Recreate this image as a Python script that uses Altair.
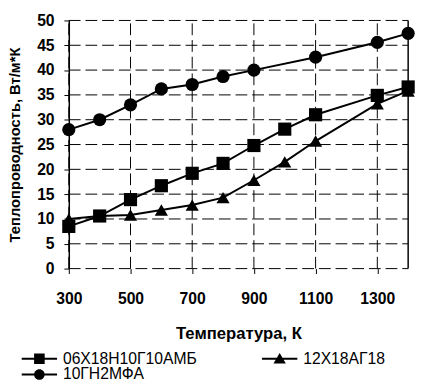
import altair as alt
import pandas as pd

temps = [300, 400, 500, 600, 700, 800, 900, 1000, 1100, 1300, 1400]
s1_name = "06Х18Н10Г10АМБ"
s2_name = "12Х18АГ18"
s3_name = "10ГН2МФА"
s1 = [8.5, 10.6, 13.9, 16.7, 19.2, 21.2, 24.8, 28.1, 31.0, 34.9, 36.6]
s2 = [10.0, 10.6, 10.8, 11.8, 12.8, 14.3, 17.8, 21.5, 25.7, 33.2, 35.8]
s3_temps = [300, 400, 500, 600, 700, 800, 900, 1100, 1300, 1400]
s3 = [28.0, 30.0, 33.0, 36.2, 37.1, 38.7, 40.0, 42.6, 45.6, 47.4]

x_ticks = [300, 500, 700, 900, 1100, 1300]
y_ticks = list(range(0, 51, 5))
series_order = [s1_name, s2_name, s3_name]
marker_shapes = ["square", "triangle-up", "circle"]

rows = []
for t, v in zip(temps, s1):
    rows.append({"T": t, "k": v, "s": s1_name})
for t, v in zip(temps, s2):
    rows.append({"T": t, "k": v, "s": s2_name})
for t, v in zip(s3_temps, s3):
    rows.append({"T": t, "k": v, "s": s3_name})
df = pd.DataFrame(rows)

FONT = "Liberation Sans"

xs = alt.Scale(domain=[300, 1400], nice=False, zero=False)
ys = alt.Scale(domain=[0, 50], nice=False)

X = alt.X("T:Q", scale=xs, axis=alt.Axis(values=x_ticks, title="Температура, К",
                                         format="d", domain=False,
                                         labelOverlap=False))
Y = alt.Y("k:Q", scale=ys, axis=alt.Axis(values=y_ticks, labelOverlap=False,
                                         tickCount=11,
                                         title="Теплопроводность, Вт/м*К"))

# dashed grid drawn as rules through the scales
vgrid = alt.Chart(pd.DataFrame({"T": x_ticks})).mark_rule(
    color="black", strokeWidth=1, strokeDash=[12, 5]).encode(
    x=X, y=alt.datum(0), y2=alt.datum(50))
hgrid = alt.Chart(pd.DataFrame({"k": y_ticks})).mark_rule(
    color="black", strokeWidth=1, strokeDash=[12, 5]).encode(
    y=Y, x=alt.datum(300), x2=alt.datum(1400))

base = alt.Chart(df)

lines = base.mark_line(color="black", strokeWidth=2).encode(
    x=X, y=Y, detail="s:N")

point_layers = []
for name, shp in zip(series_order, marker_shapes):
    point_layers.append(
        base.transform_filter(alt.datum.s == name).mark_point(
            filled=True, color="black", opacity=1, size=180, shape=shp
        ).encode(x=X, y=Y)
    )

# legend glyphs: a short line with the marker on it (filled shapes only)
bar = "M-3,-0.17H3V0.17H-3Z"
legend_paths = [
    bar + "M-0.9,-0.9H0.9V0.9H-0.9Z",
    bar + "M0,-1.0L1.05,0.8H-1.05Z",
    bar + "M0.9,0A0.9,0.9,0,1,1,-0.9,0A0.9,0.9,0,1,1,0.9,0Z",
]

legend_layer = base.mark_point(filled=True, color="black", opacity=0).encode(
    x=X, y=Y,
    shape=alt.Shape("s:N", sort=series_order,
                    scale=alt.Scale(domain=series_order, range=legend_paths),
                    legend=alt.Legend(
                        title=None, orient="none", legendX=-38, legendY=337,
                        direction="horizontal",
                        columns=2, columnPadding=66, rowPadding=0,
                        symbolSize=144, symbolOpacity=1, symbolFillColor="black",
                        symbolStrokeWidth=0,
                        labelOffset=16, labelFontSize=16, labelFont=FONT,
                        labelColor="black", labelLimit=300)))

right_border = alt.Chart(pd.DataFrame({"T": [1400]})).mark_rule(
    color="black", strokeWidth=1.5).encode(x=X)

chart = alt.layer(vgrid, hgrid, lines, *point_layers, legend_layer,
                  right_border).properties(
    width=346, height=253,
    autosize=alt.AutoSizeParams(type="none"),
    padding={"left": 62, "top": 9, "right": 8, "bottom": 116},
).configure_view(stroke=None).configure_axis(
    grid=False, tickColor="black", tickSize=5, labelFontSize=16,
    labelFontWeight="bold", labelFont=FONT, labelColor="black",
    labelOverlap=False, labelFlush=False,
    titleFontWeight="bold", titleFont=FONT, titleColor="black",
    domainColor="black", domainWidth=1.5
).configure_axisX(labelPadding=18, titlePadding=19, titleFontSize=17).configure_axisY(
    labelPadding=10, titlePadding=14, titleFontSize=15)

chart.save("out.html", embed_options={"renderer": "svg", "actions": False})
